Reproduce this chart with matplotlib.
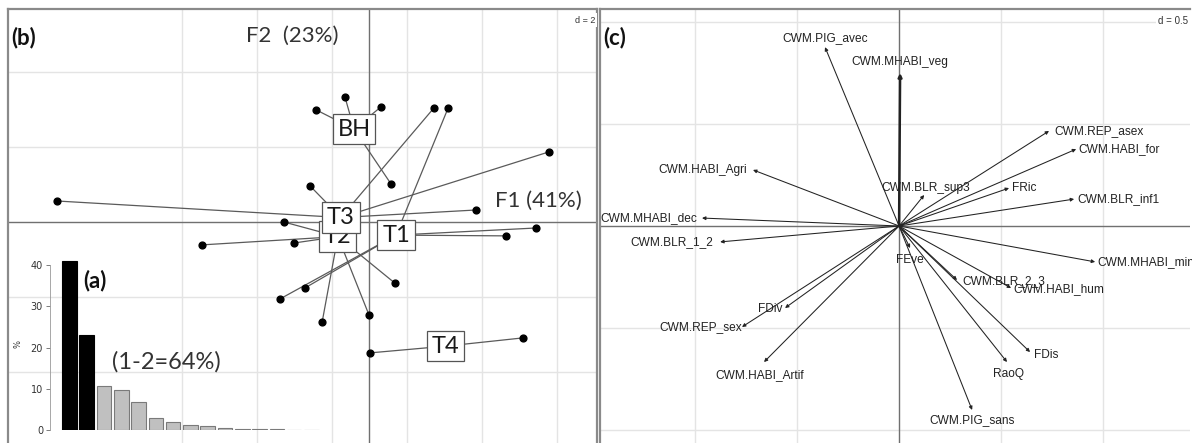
import matplotlib
matplotlib.use('Agg')
import matplotlib.pyplot as plt

W, H = 1192, 443

# (a) valeurs propres (%)
eig_pct = [41, 23, 10.8, 9.7, 6.9, 2.8, 2.0, 1.2, 0.9, 0.6, 0.3, 0.3, 0.3, 0.1, 0.1]

# (b) centres des classes
class_names = ['BH', 'T1', 'T2', 'T3', 'T4']
class_x = [-0.40, 0.72, -0.83, -0.75, 2.05]
class_y = [2.48, -0.35, -0.39, 0.12, -3.31]

# (b) relevés et leur classe
site_class = ['BH', 'BH', 'BH', 'BH',
              'T3', 'T3', 'T3', 'T3', 'T3',
              'T1', 'T1', 'T1', 'T1', 'T1',
              'T2', 'T2', 'T2', 'T2', 'T2', 'T2',
              'T4', 'T4']
site_x = [-0.64, -1.41, 0.32, 0.59,
          -8.32, 1.73, 4.80, -1.57, 2.85,
          2.11, 4.45, 3.65, -1.71, -2.37,
          -2.27, -4.45, -2.00, 0.69, -1.25, 0.00,
          0.03, 4.11]
site_y = [3.33, 2.99, 3.07, 1.01,
          0.56, 3.04, 1.87, 0.96, 0.32,
          3.04, -0.16, -0.37, -1.76, -2.05,
          0.00, -0.61, -0.56, -1.63, -2.67, -2.48,
          -3.49, -3.09]

# (c) variables : extrémités des flèches et position des étiquettes
var_names = ['CWM.PIG_avec', 'CWM.MHABI_veg', 'CWM.REP_asex', 'CWM.HABI_for',
             'CWM.HABI_Agri', 'CWM.BLR_sup3', 'FRic', 'CWM.BLR_inf1',
             'CWM.MHABI_dec', 'CWM.BLR_1_2', 'CWM.MHABI_min', 'FEve',
             'CWM.BLR_2_3', 'CWM.HABI_hum', 'FDiv', 'CWM.REP_sex',
             'CWM.HABI_Artif', 'FDis', 'RaoQ', 'CWM.PIG_sans']
var_x = [-0.363, 0.005, 0.735, 0.868, -0.716, 0.123, 0.539, 0.858, -0.966, -0.877,
         0.961, 0.054, 0.284, 0.549, -0.559, -0.770, -0.662, 0.642, 0.529, 0.358]
var_y = [0.877, 0.750, 0.466, 0.377, 0.275, 0.152, 0.186, 0.132, 0.039, -0.078,
         -0.176, -0.108, -0.265, -0.304, -0.402, -0.495, -0.667, -0.618, -0.667, -0.902]
lab_x = [-0.363, 0.005, 0.980, 1.078, -0.961, 0.132, 0.613, 1.074, -1.225, -1.113,
         1.211, 0.054, 0.515, 0.784, -0.632, -0.971, -0.681, 0.721, 0.534, 0.358]
lab_y = [0.922, 0.804, 0.466, 0.377, 0.275, 0.186, 0.186, 0.132, 0.039, -0.078,
         -0.176, -0.167, -0.270, -0.309, -0.407, -0.495, -0.730, -0.632, -0.725, -0.951]


def px_rect(x0, y0, x1, y1):
    return [x0 / W, 1 - y1 / H, (x1 - x0) / W, (y1 - y0) / H]


fig = plt.figure(figsize=(W / 100, H / 100), dpi=100)

# ---------- panneau (b) ----------
axb = fig.add_axes(px_rect(8, 9, 597, 453))
axb.set_xlim(-9.627, 6.08)
axb.set_ylim(-6.16, 5.68)
axb.set_xticks([])
axb.set_yticks([])
for s in axb.spines.values():
    s.set_color('#8a8a8a')
    s.set_linewidth(1.6)
axb.spines['bottom'].set_visible(False)

for gx in [-5, -3, -1, 1, 3, 5]:
    axb.axvline(gx, color='#e4e4e4', lw=1, zorder=0)
for gy in [-4, -2, 2, 4]:
    axb.axhline(gy, color='#e4e4e4', lw=1, zorder=0)
axb.axhline(0, color='#707070', lw=1, zorder=1)
axb.axvline(0, color='#707070', lw=1, zorder=1)

centres = dict(zip(class_names, zip(class_x, class_y)))
for c, x, y in zip(site_class, site_x, site_y):
    cx, cy = centres[c]
    axb.plot([cx, x], [cy, y], color='#5a5a5a', lw=0.9, zorder=2)
axb.scatter(site_x, site_y, s=24, color='black', zorder=3)

for name, x, y in zip(class_names, class_x, class_y):
    axb.text(x, y, name, ha='center', va='center', fontsize=17, family='Lato',
             color='#1a1a1a', zorder=5,
             bbox=dict(boxstyle='square,pad=0.2', fc='white', ec='#555555', lw=0.9))

axb.text(-9.55, 4.91, '(b)', ha='left', va='center', fontsize=16,
         fontweight='bold', family='Lato', color='#111111')
axb.text(-2.05, 4.96, 'F2  (23%)', ha='center', va='center', fontsize=16,
         family='Lato', color='#333333')
axb.text(4.51, 0.56, 'F1 (41%)', ha='center', va='center', fontsize=16,
         family='Lato', color='#333333')
axb.text(0.997, 0.985, 'd = 2', transform=axb.transAxes, ha='right', va='top',
         fontsize=6.5, family='Liberation Sans', color='#333333',
         bbox=dict(boxstyle='square,pad=0.25', fc='white', ec='none'))

# ---------- encart (a) ----------
axa = fig.add_axes(px_rect(50, 257, 330, 430))
axa.patch.set_alpha(0)
colors = ['black' if i < 2 else '#c0c0c0' for i in range(len(eig_pct))]
edges = ['black' if i < 2 else '#7a7a7a' for i in range(len(eig_pct))]
axa.bar(range(len(eig_pct)), eig_pct, width=0.84, color=colors,
        edgecolor=edges, linewidth=0.8, zorder=3)
axa.set_xlim(-1.12, 15.07)
axa.set_ylim(0, 42)
axa.set_xticks([])
axa.set_yticks([0, 10, 20, 30, 40])
axa.tick_params(axis='y', labelsize=7, length=3, width=0.6, color='#666666',
                labelcolor='#333333', pad=2)
for s in ['top', 'right', 'bottom']:
    axa.spines[s].set_visible(False)
axa.spines['left'].set_bounds(0, 40)
axa.spines['left'].set_color('#999999')
axa.spines['left'].set_linewidth(0.6)
axa.set_ylabel('%', fontsize=6, labelpad=6, color='#333333')
axa.text(1.48, 36.2, '(a)', ha='center', va='center', fontsize=16,
         fontweight='bold', family='Lato', color='#111111')
axa.text(5.59, 16.5, '(1-2=64%)', ha='center', va='center', fontsize=17,
         family='Lato', color='#333333')

# ---------- panneau (c) ----------
axc = fig.add_axes(px_rect(600, 9, 1190, 453))
axc.set_xlim(-1.466, 1.426)
axc.set_ylim(-1.113, 1.064)
axc.set_xticks([])
axc.set_yticks([])
for s in axc.spines.values():
    s.set_color('#8a8a8a')
    s.set_linewidth(1.6)
axc.spines['bottom'].set_visible(False)
axc.spines['right'].set_visible(False)

for gx in [-1.0, -0.5, 0.5, 1.0]:
    axc.axvline(gx, color='#e4e4e4', lw=1, zorder=0)
for gy in [-1.0, -0.5, 0.5, 1.0]:
    axc.axhline(gy, color='#e4e4e4', lw=1, zorder=0)
axc.axhline(0, color='#707070', lw=1, zorder=1)
axc.axvline(0, color='#707070', lw=1, zorder=1)

for name, x, y, lx, ly in zip(var_names, var_x, var_y, lab_x, lab_y):
    lw = 1.8 if name == 'CWM.MHABI_veg' else 0.75
    axc.annotate('', xy=(x, y), xytext=(0, 0),
                 arrowprops=dict(arrowstyle='-|>', lw=lw, color='#222222',
                                 mutation_scale=5, shrinkA=0, shrinkB=0),
                 zorder=2)
    axc.text(lx, ly, name, ha='center', va='center', fontsize=8.6,
             family='Liberation Sans', color='#222222', zorder=3)

axc.text(-1.45, 0.922, '(c)', ha='left', va='center', fontsize=16,
         fontweight='bold', family='Lato', color='#111111')
axc.text(0.997, 0.985, 'd = 0.5', transform=axc.transAxes, ha='right', va='top',
         fontsize=7, family='Liberation Sans', color='#333333',
         bbox=dict(boxstyle='square,pad=0.25', fc='white', ec='none'))

fig.savefig('out.png', dpi=100)
